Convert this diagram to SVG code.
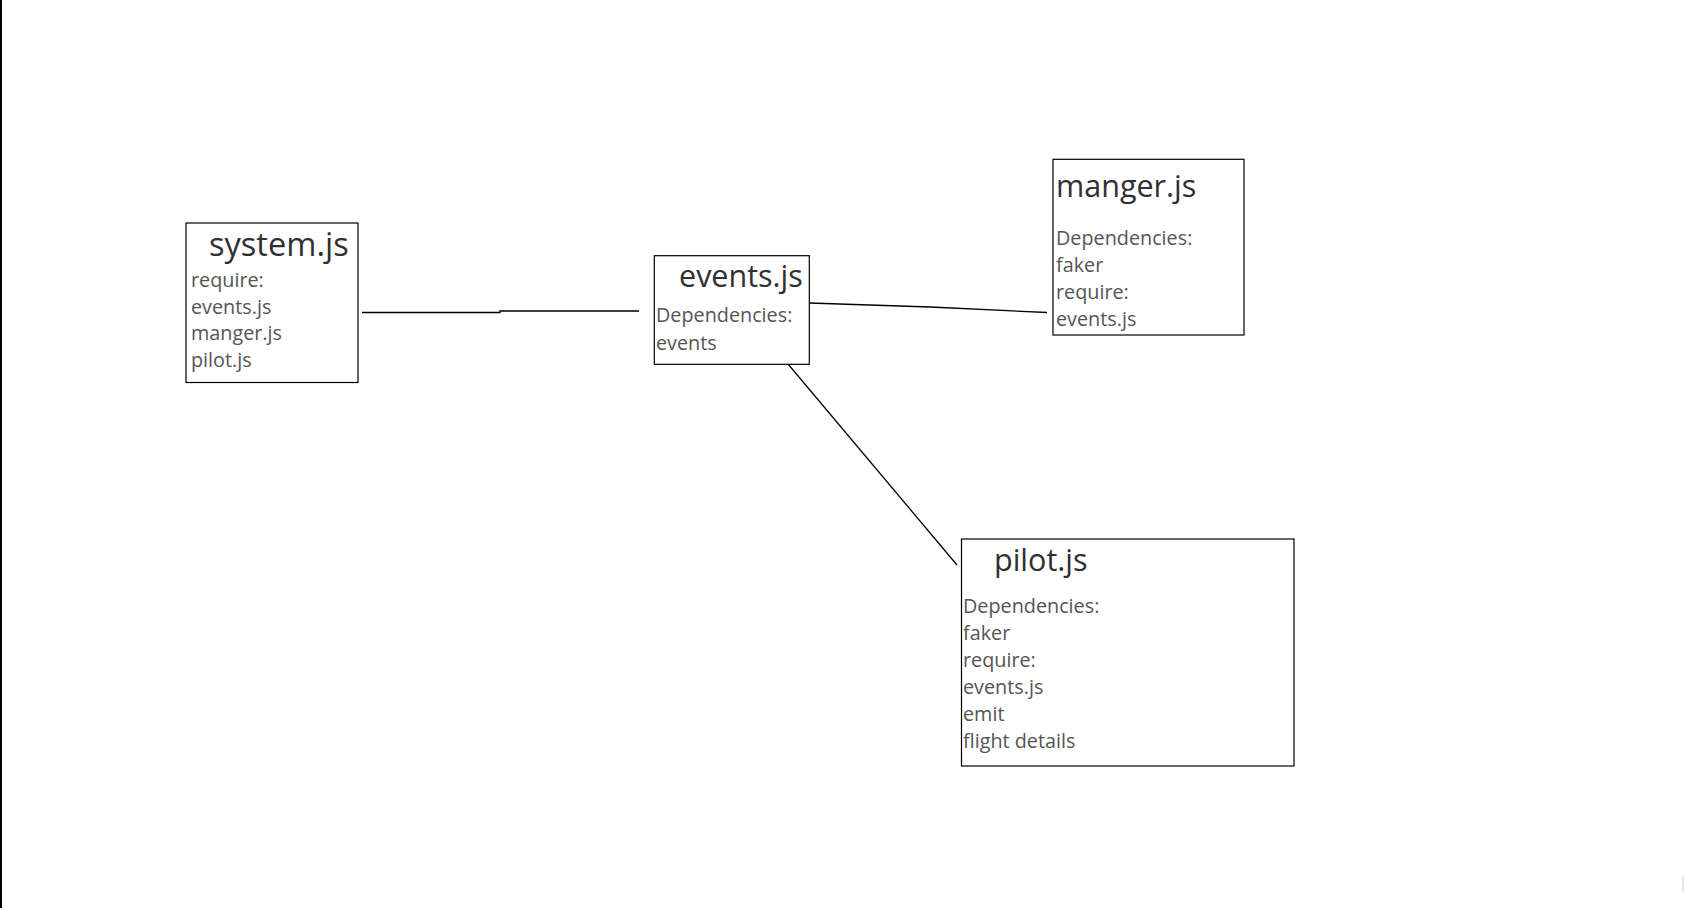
<svg xmlns="http://www.w3.org/2000/svg" width="1684" height="908" viewBox="0 0 1684 908">
<style>
.box{fill:#fff;stroke:#000;stroke-width:1.2}
.title{font-family:"Open Sans","Noto Sans","Liberation Sans",sans-serif;font-size:30.5px;fill:#303030}
.body{font-family:"Open Sans","Noto Sans","Liberation Sans",sans-serif;font-size:19.8px;fill:#555}
.conn{fill:none;stroke:#000;stroke-width:1.3}
</style>
<rect x="0" y="0" width="1684" height="908" fill="#fff"/>
<line x1="1" y1="0" x2="1" y2="908" stroke="#000" stroke-width="2"/>
<line x1="1683" y1="876" x2="1683" y2="892" stroke="#ccc" stroke-width="1"/>
<g id="connectors">
<polyline class="conn" points="362,312.5 500,312.5 500,311 639,311"/>
<polyline class="conn" points="809,303 930,307 1047,312.5"/>
<line class="conn" x1="788" y1="364" x2="957" y2="565" stroke-width="1"/>
</g>
<g id="system">
<rect class="box" x="186" y="223" width="172" height="159.5"/>
<text class="title" x="209" y="256" style="font-size:32.6px">system.js</text>
<text class="body" x="191" y="287">require:</text>
<text class="body" x="191" y="313.5">events.js</text>
<text class="body" x="191" y="340">manger.js</text>
<text class="body" x="191" y="367">pilot.js</text>
</g>
<g id="events">
<rect class="box" x="654.3" y="255.7" width="155" height="108.6"/>
<text class="title" x="679" y="287">events.js</text>
<text class="body" x="656" y="322">Dependencies:</text>
<text class="body" x="656" y="350">events</text>
</g>
<g id="manger">
<rect class="box" x="1053" y="159.3" width="191" height="175.7"/>
<text class="title" x="1056" y="196.5">manger.js</text>
<text class="body" x="1056" y="244.5">Dependencies:</text>
<text class="body" x="1056" y="272">faker</text>
<text class="body" x="1056" y="298.5">require:</text>
<text class="body" x="1056" y="325.5">events.js</text>
</g>
<g id="pilot">
<rect class="box" x="961.5" y="539" width="332.5" height="227"/>
<text class="title" x="994" y="571">pilot.js</text>
<text class="body" x="963" y="613">Dependencies:</text>
<text class="body" x="963" y="640">faker</text>
<text class="body" x="963" y="667">require:</text>
<text class="body" x="963" y="694">events.js</text>
<text class="body" x="963" y="721">emit</text>
<text class="body" x="963" y="748">flight details</text>
</g>
</svg>
